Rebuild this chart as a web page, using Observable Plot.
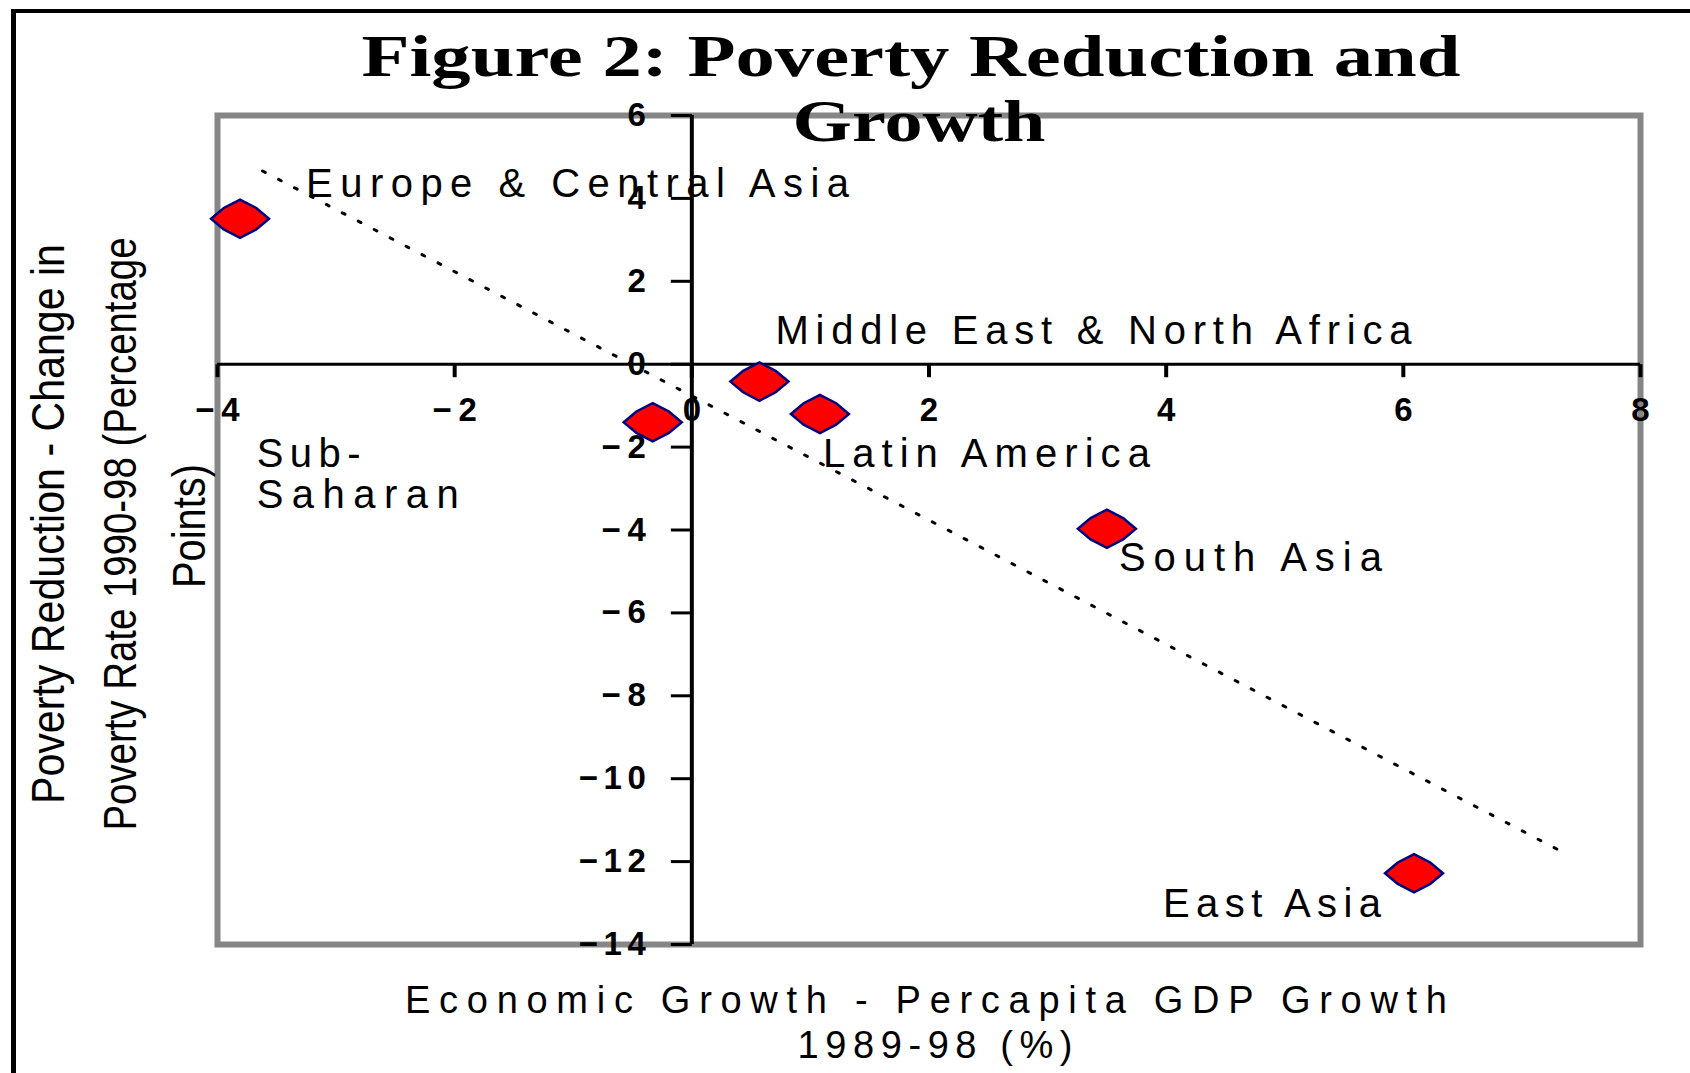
<!DOCTYPE html>
<html>
<head>
<meta charset="utf-8">
<script src="https://cdn.jsdelivr.net/npm/d3@7"></script>
<script src="https://cdn.jsdelivr.net/npm/@observablehq/plot@0.6"></script>
<style>
html, body { margin: 0; padding: 0; background: #fff; }
#wrap { position: relative; width: 1690px; height: 1073px; overflow: hidden; background: #fff; }
#border { position: absolute; left: 11px; top: 9px; width: 1700px; height: 1100px; border-left: 5px solid #000; border-top: 4px solid #000; box-sizing: border-box; }
#chart { position: absolute; left: 0; top: 0; }
</style>
</head>
<body>
<div id="wrap"><div id="border"></div><div id="chart"></div></div>
<script>
// ---- data ----
const regions = ["Europe & Central Asia", "Sub-Saharan", "Middle East & North Africa", "Latin America", "South Asia", "East Asia"];
const growth = [-3.81, -0.33, 0.57, 1.08, 3.50, 6.09];          // per-capita GDP growth 1989-98 (%)
const povertyChange = [3.51, -1.40, -0.42, -1.20, -3.97, -12.28]; // change in poverty rate 1990-98 (pp)
const labelLines = [["Europe & Central Asia"], ["Sub-", "Saharan"], ["Middle East & North Africa"], ["Latin America"], ["South Asia"], ["East Asia"]];
const trendX = [-3.62, 7.31];
const trendY = [4.66, -11.72];
const xTicks = [-4, -2, 0, 2, 4, 6, 8];
const xTickLabels = ["−4", "−2", "0", "2", "4", "6", "8"];
const yTicks = [6, 4, 2, 0, -2, -4, -6, -8, -10, -12, -14];
const yTickLabels = ["6", "4", "2", "0", "−2", "−4", "−6", "−8", "−10", "−12", "−14"];
const titleLines = ["Figure 2: Poverty Reduction and", "Growth"];
const xTitleLines = ["Economic Growth - Percapita GDP Growth", "1989-98 (%)"];
const yTitleLines = ["Poverty Reduction - Change in", "Poverty Rate 1990-98 (Percentage", "Points)"];

// ---- layout / style ----
const SANS = "Liberation Sans, Arial, sans-serif";
const SERIF = "Liberation Serif, Times New Roman, serif";
const labelLayout = {
  "Europe & Central Asia": {dx: 66, dy: -22, anchor: "start"},
  "Sub-Saharan": {dx: -396, dy: 45, anchor: "start"},
  "Middle East & North Africa": {dx: 16, dy: -38, anchor: "start"},
  "Latin America": {dx: 3, dy: 53, anchor: "start"},
  "South Asia": {dx: 12, dy: 42, anchor: "start"},
  "East Asia": {dx: -33, dy: 44, anchor: "end"}
};
const fit = new Map([
  ["Europe & Central Asia", [543, "spacing"]],
  ["Middle East & North Africa", [636, "spacing"]],
  ["Latin America", [327, "spacing"]],
  ["South Asia", [263, "spacing"]],
  ["East Asia", [218, "spacing"]],
  ["Sub-", [104, "spacing"]],
  ["Saharan", [202, "spacing"]],
  ["Figure 2: Poverty Reduction and", [1099, "spacingAndGlyphs"]],
  ["Growth", [253, "spacingAndGlyphs"]],
  ["Economic Growth - Percapita GDP Growth", [1042, "spacing"]],
  ["1989-98 (%)", [275, "spacing"]],
  ["Poverty Reduction - Change in", [560, "spacingAndGlyphs"]],
  ["Poverty Rate 1990-98 (Percentage", [593, "spacingAndGlyphs"]],
  ["Points)", [124, "spacingAndGlyphs"]]
]);

const diamond = {
  draw(ctx, size) {
    const r = Math.sqrt(size / Math.PI), rx = r, ry = r * 0.66, k = 0.56;
    ctx.moveTo(rx, 0); ctx.lineTo(k * rx, k * ry); ctx.lineTo(0, ry); ctx.lineTo(-k * rx, k * ry);
    ctx.lineTo(-rx, 0); ctx.lineTo(-k * rx, -k * ry); ctx.lineTo(0, -ry); ctx.lineTo(k * rx, -k * ry);
    ctx.closePath();
  }
};
const tickDown = {draw(ctx) { ctx.moveTo(0, 0); ctx.lineTo(0, 13); }};
const tickLeft = {draw(ctx) { ctx.moveTo(0, 0); ctx.lineTo(-21, 0); }};

const idx = d3.range(regions.length);

const labelMarks = idx.flatMap(i => labelLines[i].map((line, j) => {
  const L = labelLayout[regions[i]];
  return Plot.text([i], {
    x: k => growth[k], y: k => povertyChange[k], text: () => line,
    dx: L.dx, dy: L.dy + j * 41, textAnchor: L.anchor, lineAnchor: "bottom",
    fontSize: 40, fontFamily: SANS, fill: "black"
  });
}));

const titlePos = [{dx: -18, dy: -40}, {dx: -10, dy: 25}];
const titleMarks = titleLines.map((t, i) => Plot.text([t], {
  frameAnchor: "top", text: d => d, dx: titlePos[i].dx, dy: titlePos[i].dy,
  lineAnchor: "bottom", fontSize: 60, fontWeight: "bold", fontFamily: SERIF, fill: "black"
}));

const xTitlePos = [{dx: -3, dy: 68}, {dx: 6, dy: 113}];
const xTitleMarks = xTitleLines.map((t, i) => Plot.text([t], {
  frameAnchor: "bottom", text: d => d, dx: xTitlePos[i].dx, dy: xTitlePos[i].dy,
  lineAnchor: "bottom", fontSize: 38, fontFamily: SANS, fill: "black"
}));

const yTitlePos = [{dx: -168, dy: -6}, {dx: -96, dy: 4}, {dx: -27, dy: -4}];
const yTitleMarks = yTitleLines.map((t, i) => Plot.text([t], {
  frameAnchor: "left", text: d => d, rotate: -90, dx: yTitlePos[i].dx, dy: yTitlePos[i].dy,
  lineAnchor: "middle", textAnchor: "middle", fontSize: 46, fontFamily: SANS, fill: "black"
}));

const svg = Plot.plot({
  width: 1690,
  height: 1073,
  marginLeft: 217,
  marginRight: 50,
  marginTop: 115,
  marginBottom: 129,
  style: {background: "transparent", overflow: "visible"},
  x: {domain: [-4, 8], axis: null},
  y: {domain: [-14, 6], axis: null},
  marks: [
    Plot.frame({stroke: "#868686", strokeWidth: 6}),
    Plot.ruleY([0], {stroke: "black", strokeWidth: 3}),
    Plot.ruleX([0], {y1: () => -14, y2: () => 6, stroke: "black", strokeWidth: 4}),
    Plot.dot(xTicks, {x: d => d, y: () => 0, symbol: tickDown, stroke: "black", strokeWidth: 4, fill: "none"}),
    Plot.dot(yTicks, {x: () => 0, y: d => d, symbol: tickLeft, stroke: "black", strokeWidth: 3, fill: "none"}),
    Plot.text(d3.range(xTicks.length), {x: i => xTicks[i], y: () => 0, text: i => xTickLabels[i], dy: 57, lineAnchor: "bottom", textAnchor: "middle", fontSize: 33, fontWeight: "bold", fontFamily: SANS, fill: "black"}),
    Plot.text(d3.range(yTicks.length), {x: () => 0, y: i => yTicks[i], text: i => yTickLabels[i], dx: -46, lineAnchor: "middle", textAnchor: "end", fontSize: 33, fontWeight: "bold", fontFamily: SANS, fill: "black"}),
    Plot.line(d3.range(trendX.length), {x: i => trendX[i], y: i => trendY[i], stroke: "black", strokeWidth: 3, strokeDasharray: "3,15"}),
    Plot.dot(idx, {x: i => growth[i], y: i => povertyChange[i], symbol: diamond, r: 29, fill: "#ff0000", stroke: "#000080", strokeWidth: 2.5}),
    ...labelMarks,
    ...titleMarks,
    ...xTitleMarks,
    ...yTitleMarks
  ]
});

// fit text widths to the reference's wide, bitmap-like lettering
svg.querySelectorAll("text").forEach(t => {
  if (t.querySelector("tspan")) return;
  const s = t.textContent;
  if (fit.has(s)) {
    const [len, adj] = fit.get(s);
    t.setAttribute("textLength", len);
    t.setAttribute("lengthAdjust", adj);
  } else if (/^[−-]?\d+$/.test(s) && s.length > 1) {
    t.setAttribute("textLength", 22.7 * s.length - 1);
    t.setAttribute("lengthAdjust", "spacing");
  }
});

document.getElementById("chart").append(svg);
</script>
</body>
</html>
